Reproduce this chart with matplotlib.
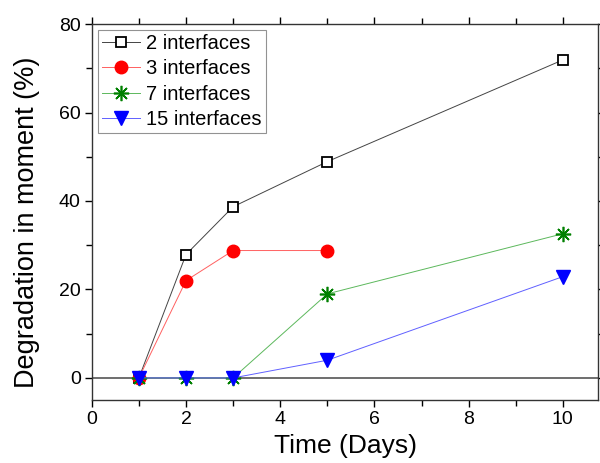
import matplotlib
matplotlib.use("Agg")
import matplotlib.pyplot as plt
from matplotlib.ticker import MultipleLocator

plt.rcParams['font.family'] = ['Liberation Sans', 'DejaVu Sans']

# data
days = [1, 2, 3, 5, 10]
deg_2 = [0, 27.9, 38.7, 48.9, 71.9]
days_3 = [1, 2, 3, 5]
deg_3 = [0, 22.0, 28.8, 28.8]
deg_7 = [0, 0, 0, 19.0, 32.6]
deg_15 = [0, 0, 0, 4.0, 22.9]

fig = plt.figure(figsize=(6, 4.63), dpi=100)
ax = fig.add_axes([0.153, 0.136, 0.844, 0.812])

ax.axhline(0, color='#555555', linewidth=1.2, zorder=1)

ax.plot(days, deg_2, color='#444444', linewidth=0.7, marker='s', markersize=7,
        markerfacecolor='white', markeredgecolor='black', markeredgewidth=1.3,
        label='2 interfaces', zorder=3)
ax.plot(days_3, deg_3, color='#ff6060', linewidth=0.7, marker='o', markersize=9,
        markerfacecolor='red', markeredgecolor='red', label='3 interfaces', zorder=3)
ax.plot(days, deg_7, color='#5cb85c', linewidth=0.7, marker=(8, 2, 0), markersize=11,
        markeredgecolor='green', markeredgewidth=1.2, label='7 interfaces', zorder=3)
ax.plot(days, deg_15, color='#6060ff', linewidth=0.7, marker='v', markersize=10,
        markerfacecolor='blue', markeredgecolor='blue', label='15 interfaces', zorder=4)

ax.set_xlim(0, 10.75)
ax.set_ylim(-5, 80)
ax.xaxis.set_major_locator(MultipleLocator(2))
ax.xaxis.set_minor_locator(MultipleLocator(1))
ax.yaxis.set_major_locator(MultipleLocator(20))
ax.yaxis.set_minor_locator(MultipleLocator(10))
ax.tick_params(which='both', direction='out', top=True, right=True,
               labeltop=False, labelright=False, labelsize=14, width=1)
ax.tick_params(which='major', length=5, pad=3)
ax.tick_params(which='minor', length=4)
for s in ax.spines.values():
    s.set_linewidth(1)
    s.set_color('#333333')

ax.set_xlabel('Time (Days)', fontsize=19, labelpad=4)
ax.set_ylabel('Degradation in moment (%)', fontsize=19.5, labelpad=5)
ax.yaxis.set_label_coords(-0.103, 0.473)

leg = ax.legend(loc='upper left', fontsize=14.5, frameon=True, fancybox=False,
                edgecolor='#777777', handlelength=1.9, handletextpad=0.3,
                borderpad=0.2, labelspacing=0.31, borderaxespad=0.3)
leg.get_frame().set_linewidth(0.8)

fig.savefig('out.png', dpi=100)
